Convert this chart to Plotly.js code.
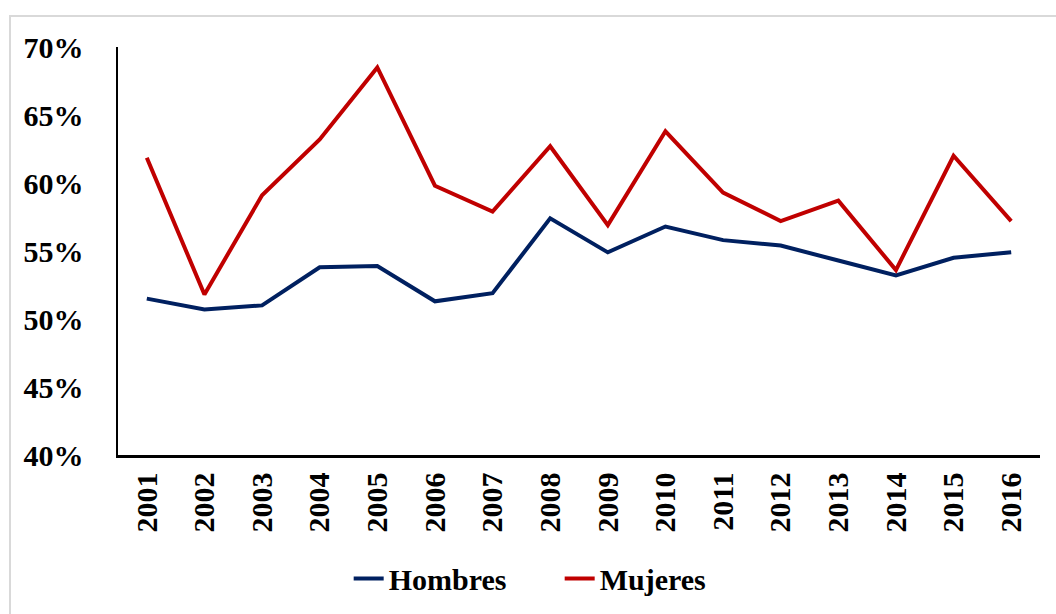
<!DOCTYPE html>
<html>
<head>
<meta charset="utf-8">
<script src="https://cdn.plot.ly/plotly-3.0.1.min.js"></script>
<style>
  html, body { margin: 0; padding: 0; background: #fff; }
  #chart { width: 1056px; height: 614px; }
  #frame { position: absolute; left: 9px; top: 15px; width: 1100px; height: 700px;
           border: 2px solid #d9d9d9; pointer-events: none; }
</style>
</head>
<body>
<div id="chart"></div>
<div id="frame"></div>
<script>
const years = ['2001','2002','2003','2004','2005','2006','2007','2008','2009','2010','2011','2012','2013','2014','2015','2016'];
const hombres = [51.5, 50.7, 51.0, 53.8, 53.9, 51.3, 51.9, 57.4, 54.9, 56.8, 55.8, 55.4, 54.3, 53.2, 54.5, 54.9];
const mujeres = [61.85, 51.8, 59.1, 63.2, 68.5, 59.8, 57.9, 62.7, 56.9, 63.8, 59.3, 57.2, 58.7, 53.6, 62.0, 57.2];
const yTicks = [40, 45, 50, 55, 60, 65, 70];
const yTickText = yTicks.map(v => v + '%');

const font = {family: '"Liberation Serif", "Times New Roman", serif', size: 30, color: '#000', weight: 'bold'};

const data = [
  {x: years, y: hombres, name: 'Hombres', type: 'scatter', mode: 'lines',
   line: {color: '#002060', width: 4}},
  {x: years, y: mujeres, name: 'Mujeres', type: 'scatter', mode: 'lines',
   line: {color: '#C00000', width: 4}}
];

const layout = {
  width: 1056, height: 614,
  margin: {l: 118, r: 16, t: 47, b: 159},
  paper_bgcolor: '#fff', plot_bgcolor: '#fff',
  font: font,
  showlegend: true,
  legend: {orientation: 'h', xref: 'container', yref: 'container', x: 0.53, xanchor: 'center',
           y: 0.058, yanchor: 'middle', font: font, entrywidth: 166, entrywidthmode: 'pixels'},
  xaxis: {type: 'category', range: [-0.5, 15.5], showgrid: false, zeroline: false,
          showline: true, linecolor: '#000', linewidth: 2.5, ticks: '',
          tickangle: -90, tickfont: font, ticklabelstandoff: 3, fixedrange: true},
  yaxis: {range: [40, 70], tickvals: yTicks, ticktext: yTickText, showgrid: false, zeroline: false,
          showline: true, linecolor: '#000', linewidth: 2.5, ticks: '',
          tickfont: font, ticklabelstandoff: 26, fixedrange: true}
};

Plotly.newPlot('chart', data, layout, {displayModeBar: false, staticPlot: true});
</script>
</body>
</html>
